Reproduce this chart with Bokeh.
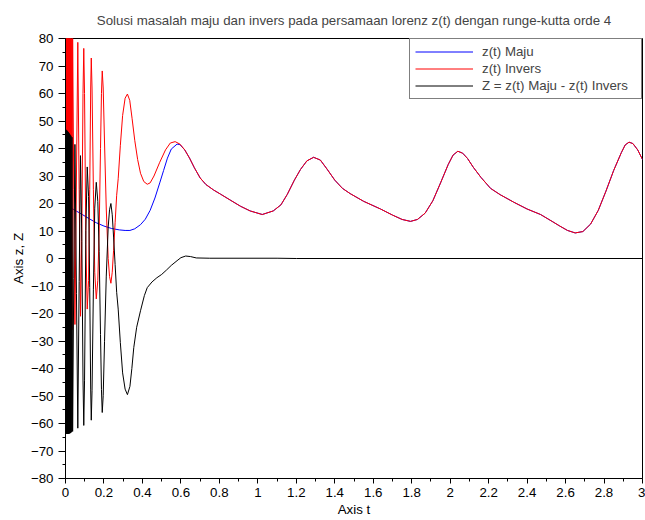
from bokeh.plotting import figure
from bokeh.models import FixedTicker, Legend, LegendItem, Range1d
from bokeh.embed import file_html
from bokeh.resources import INLINE

title_text = "Solusi masalah maju dan invers pada persamaan lorenz z(t) dengan runge-kutta orde 4"
x_label = "Axis t"
y_label = "Axis z, Z"
series_names = ["z(t) Maju", "z(t) Invers", "Z = z(t) Maju - z(t) Invers"]

# z(t) Maju (forward solution)
t_maju = [0.000, 0.040, 0.080, 0.120, 0.160, 0.200, 0.240, 0.280, 0.310, 0.335,
          0.360, 0.390, 0.415, 0.440, 0.465, 0.490, 0.510, 0.530, 0.550, 0.580,
          0.595, 0.620, 0.645, 0.670, 0.700, 0.730, 0.770, 0.806, 0.860, 0.910,
          0.960, 1.023, 1.080, 1.120, 1.153, 1.190, 1.222, 1.255, 1.290, 1.325,
          1.360, 1.400, 1.440, 1.480, 1.550, 1.638, 1.700, 1.750, 1.794, 1.830,
          1.870, 1.910, 1.950, 1.990, 2.015, 2.040, 2.065, 2.090, 2.120, 2.160,
          2.210, 2.260, 2.330, 2.400, 2.470, 2.530, 2.570, 2.610, 2.650, 2.690,
          2.730, 2.770, 2.810, 2.850, 2.890, 2.910, 2.930, 2.950, 2.975, 3.000]
z_maju = [19.5, 17.9, 16.3, 14.6, 13.0, 11.8, 10.9, 10.4, 10.2, 10.2,
          10.8, 12.3, 14.3, 17.5, 22.0, 27.5, 32.0, 36.5, 39.8, 41.6,
          41.4, 39.5, 36.5, 33.0, 29.3, 26.9, 24.9, 23.4, 21.1, 19.0,
          17.3, 16.0, 17.3, 19.5, 23.3, 28.5, 32.4, 35.5, 36.8, 35.8,
          32.5, 28.5, 25.5, 23.6, 20.8, 18.0, 15.8, 14.2, 13.5, 14.2,
          16.5, 21.0, 27.5, 34.2, 37.6, 39.0, 38.3, 36.4, 33.2, 29.5,
          25.5, 23.2, 20.5, 18.0, 16.0, 13.5, 11.8, 10.2, 9.3, 9.8,
          12.5, 17.5, 24.5, 32.0, 38.5, 41.3, 42.3, 41.8, 39.5, 36.0]

# z(t) Invers (inverse solution)
t_invers = [0.000, 0.0015, 0.003, 0.0045, 0.006, 0.0075, 0.009, 0.0105, 0.012, 0.0135,
            0.015, 0.0165, 0.018, 0.0195, 0.021, 0.0225, 0.024, 0.026, 0.028, 0.0305,
            0.0335, 0.037, 0.043, 0.049, 0.057, 0.064, 0.071, 0.078, 0.085, 0.091,
            0.095, 0.099, 0.106, 0.113, 0.120, 0.126, 0.131, 0.134, 0.138, 0.145,
            0.152, 0.160, 0.168, 0.175, 0.182, 0.187, 0.191, 0.196, 0.203, 0.212,
            0.222, 0.229, 0.236, 0.243, 0.250, 0.258, 0.266, 0.274, 0.285, 0.297,
            0.310, 0.322, 0.334, 0.346, 0.360, 0.375, 0.390, 0.407, 0.425, 0.440,
            0.460, 0.490, 0.520, 0.545, 0.570,
            0.595, 0.620, 0.645, 0.670, 0.700, 0.730, 0.770, 0.806, 0.860, 0.910,
            0.960, 1.023, 1.080, 1.120, 1.153, 1.190, 1.222, 1.255, 1.290, 1.325,
            1.360, 1.400, 1.440, 1.480, 1.550, 1.638, 1.700, 1.750, 1.794, 1.830,
            1.870, 1.910, 1.950, 1.990, 2.015, 2.040, 2.065, 2.090, 2.120, 2.160,
            2.210, 2.260, 2.330, 2.400, 2.470, 2.530, 2.570, 2.610, 2.650, 2.690,
            2.730, 2.770, 2.810, 2.850, 2.890, 2.910, 2.930, 2.950, 2.975, 3.000]
z_invers = [-27.5, 83.2, -27.4, 83.1, -27.3, 83.0, -27.2, 82.9, -27.1, 82.8,
            -27.0, 82.6, -26.8, 82.4, -26.6, 82.2, -26.4, 81.9, -26.2, 81.6,
            -25.9, 81.0, 25.0, -24.0, 30.0, 78.6, 25.0, -21.0, 10.0, 60.0,
            76.4, 60.0, 5.0, -18.4, -8.0, 25.0, 62.0, 72.9, 62.0, 25.0,
            -5.0, -14.7, -8.0, 10.0, 40.0, 60.0, 68.2, 62.0, 42.0, 18.0,
            0.0, -6.5, -9.0, -5.0, 3.0, 13.0, 23.0, 29.0, 41.0, 52.0,
            58.3, 59.8, 57.5, 51.0, 43.0, 36.0, 31.0, 28.0, 27.0, 27.5,
            30.0, 35.0, 39.5, 42.0, 42.5,
            41.6, 39.5, 36.5, 33.0, 29.3, 26.9, 24.9, 23.4, 21.1, 19.0,
            17.3, 16.0, 17.3, 19.5, 23.3, 28.5, 32.4, 35.5, 36.8, 35.8,
            32.5, 28.5, 25.5, 23.6, 20.8, 18.0, 15.8, 14.2, 13.5, 14.2,
            16.5, 21.0, 27.5, 34.2, 37.6, 39.0, 38.3, 36.4, 33.2, 29.5,
            25.5, 23.2, 20.5, 18.0, 16.0, 13.5, 11.8, 10.2, 9.3, 9.8,
            12.5, 17.5, 24.5, 32.0, 38.5, 41.3, 42.3, 41.8, 39.5, 36.0]

# Z = z(t) Maju - z(t) Invers
t_selisih = [0.000, 0.0015, 0.003, 0.0045, 0.006, 0.0075, 0.009, 0.0105, 0.012, 0.0135,
             0.015, 0.0165, 0.018, 0.0195, 0.021, 0.0225, 0.024, 0.026, 0.028, 0.0305,
             0.0335, 0.037, 0.043, 0.049, 0.057, 0.064, 0.071, 0.078, 0.085, 0.091,
             0.095, 0.099, 0.106, 0.113, 0.120, 0.126, 0.131, 0.134, 0.138, 0.145,
             0.152, 0.160, 0.168, 0.175, 0.182, 0.187, 0.191, 0.196, 0.203, 0.212,
             0.222, 0.229, 0.236, 0.243, 0.250, 0.258, 0.266, 0.274, 0.285, 0.297,
             0.310, 0.322, 0.335, 0.345, 0.355, 0.370, 0.390, 0.410, 0.425, 0.450,
             0.475, 0.500, 0.525, 0.550, 0.580, 0.600, 0.625, 0.650, 0.680, 0.750,
             1.100, 1.200, 3.000]
z_selisih = [47.0, -63.8, 46.8, -63.8, 46.6, -63.8, 46.4, -63.8, 46.1, -63.8,
             45.9, -63.7, 45.6, -63.6, 45.3, -63.6, 45.0, -63.4, 44.6, -63.2,
             44.1, -62.9, -7.2, 41.5, -12.8, -61.7, -8.4, 37.4, 6.1, -44.2,
             -60.7, -44.5, 10.2, 33.3, 22.6, -10.6, -47.8, -58.8, -48.1, -11.4,
             18.3, 27.7, 20.8, 2.6, -27.6, -47.7, -56.0, -49.9, -30.1, -6.4,
             11.4, 17.7, 20.0, 15.9, 7.8, -2.2, -12.3, -18.4, -30.5, -41.6,
             -47.5, -49.5, -46.5, -40.0, -32.4, -25.0, -19.0, -13.5, -10.6, -8.5,
             -7.0, -5.8, -4.2, -2.5, -0.8, 0.3, 0.9, 0.7, 0.2, 0.1,
             0.1, 0.0, 0.0]

x_ticks = [0, 0.2, 0.4, 0.6, 0.8, 1, 1.2, 1.4, 1.6, 1.8, 2, 2.2, 2.4, 2.6, 2.8, 3]
x_tick_labels = ["0", "0.2", "0.4", "0.6", "0.8", "1", "1.2", "1.4", "1.6", "1.8",
                 "2", "2.2", "2.4", "2.6", "2.8", "3"]
x_minor_ticks = [0.1, 0.3, 0.5, 0.7, 0.9, 1.1, 1.3, 1.5, 1.7, 1.9, 2.1, 2.3, 2.5, 2.7, 2.9]
y_ticks = [-80, -70, -60, -50, -40, -30, -20, -10, 0, 10, 20, 30, 40, 50, 60, 70, 80]
y_minor_ticks = [-75, -65, -55, -45, -35, -25, -15, -5, 5, 15, 25, 35, 45, 55, 65, 75]

FONT = "Liberation Sans"
FS = "13.3px"

p = figure(width=645, height=520, output_backend="svg", toolbar_location=None,
           x_range=Range1d(0, 3), y_range=Range1d(-80, 80),
           min_border_left=65, min_border_right=3, min_border_top=37, min_border_bottom=42,
           title=title_text)
p.title.text_font = FONT
p.title.text_font_size = FS
p.title.text_font_style = "normal"
p.title.align = "center"
p.title.offset = 5
p.title.standoff = 21

p.outline_line_color = "black"
p.outline_line_width = 1
p.xgrid.visible = False
p.ygrid.visible = False
p.background_fill_color = "white"
p.border_fill_color = "white"

p.xaxis.ticker = FixedTicker(ticks=x_ticks, minor_ticks=x_minor_ticks)
p.xaxis.major_label_overrides = {tv: tl for tv, tl in zip(x_ticks, x_tick_labels)}
p.yaxis.ticker = FixedTicker(ticks=y_ticks, minor_ticks=y_minor_ticks)

for ax in (p.xaxis[0], p.yaxis[0]):
    ax.axis_line_color = "black"
    ax.major_tick_line_color = "black"
    ax.minor_tick_line_color = "black"
    ax.major_tick_in = 0
    ax.minor_tick_in = 0
    ax.minor_tick_out = 3
    ax.major_label_text_font = FONT
    ax.major_label_text_font_size = FS
    ax.major_label_text_color = "black"
    ax.axis_label_text_font = FONT
    ax.axis_label_text_font_size = FS
    ax.axis_label_text_font_style = "normal"
    ax.axis_label_text_color = "black"

p.xaxis.axis_label = x_label
p.xaxis.major_tick_out = 5
p.xaxis.major_label_standoff = 4
p.xaxis.axis_label_standoff = 2
p.yaxis.axis_label = y_label
p.yaxis.major_tick_out = 7
p.yaxis.major_label_standoff = 5
p.yaxis.axis_label_standoff = 2

r_maju = p.line(t_maju, z_maju, line_color="#0000ff", line_width=1)
r_invers = p.line(t_invers, z_invers, line_color="#ff0000", line_width=1)
r_selisih = p.line(t_selisih, z_selisih, line_color="#000000", line_width=1)

legend = Legend(items=[LegendItem(label=series_names[0], renderers=[r_maju]),
                       LegendItem(label=series_names[1], renderers=[r_invers]),
                       LegendItem(label=series_names[2], renderers=[r_selisih])],
                location=(344, 379))
legend.border_line_color = "black"
legend.border_line_width = 1
legend.background_fill_color = "white"
legend.background_fill_alpha = 1
legend.padding = 5
legend.spacing = 2
legend.margin = 0
legend.glyph_width = 58
legend.glyph_height = 15
legend.label_height = 15
legend.label_standoff = 9
legend.label_width = 154
legend.label_text_font = FONT
legend.label_text_font_size = FS
p.add_layout(legend)

open("out.html", "w").write(file_html(p, INLINE))
